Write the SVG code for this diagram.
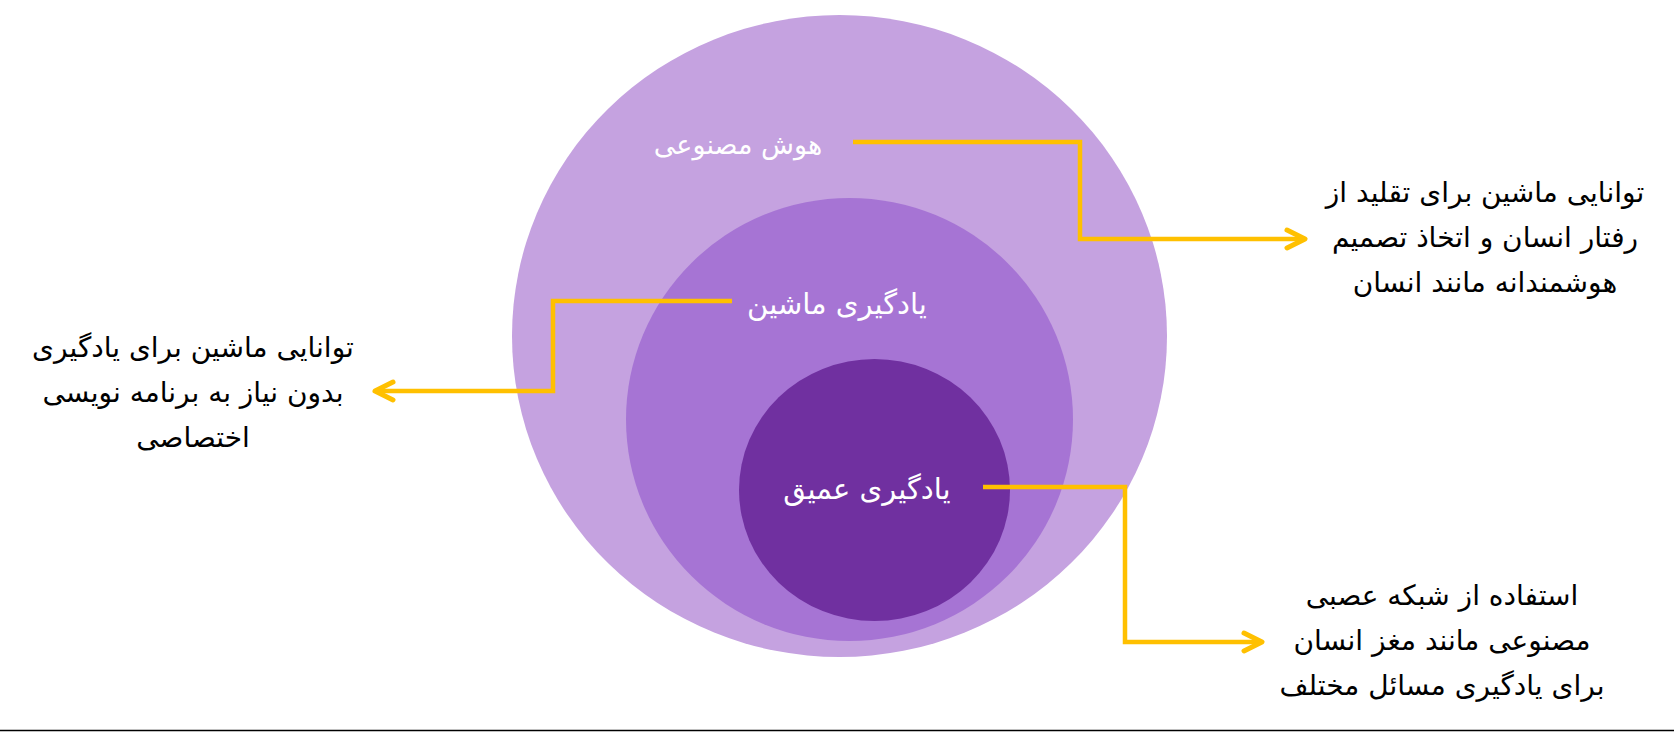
<svg xmlns="http://www.w3.org/2000/svg" width="1674" height="732" viewBox="0 0 1674 732">
<defs>
<style>
.lbl{font-family:"DejaVu Sans",sans-serif;font-size:29px;fill:#ffffff;text-anchor:middle;direction:rtl}
.desc{font-family:"DejaVu Sans",sans-serif;font-size:28px;fill:#000000;text-anchor:middle;direction:rtl}
.conn{fill:none;stroke:#FFC000;stroke-width:4.5;stroke-linejoin:miter}
</style>
<marker id="arr" markerUnits="userSpaceOnUse" markerWidth="30" markerHeight="30" viewBox="-24 -15 30 30" refX="0" refY="0" orient="auto">
<path d="M-18,-9 L0,0 L-18,9" fill="none" stroke="#FFC000" stroke-width="5" stroke-linecap="round" stroke-linejoin="round"/>
</marker>
</defs>
<rect width="1674" height="732" fill="#ffffff"/>
<g id="node-ai">
<ellipse cx="839.5" cy="336" rx="327.5" ry="321" fill="#C5A2E0"/>
<text class="lbl" x="738" y="154" style="font-size:27px">هوش مصنوعی</text>
</g>
<g id="node-ml">
<ellipse cx="849.5" cy="419.5" rx="223.5" ry="221.5" fill="#A674D4"/>
<text class="lbl" x="837" y="314">یادگیری ماشین</text>
</g>
<g id="node-dl">
<ellipse cx="874.5" cy="490" rx="135.5" ry="131" fill="#7030A0"/>
<text class="lbl" x="867" y="499">یادگیری عمیق</text>
</g>
<g id="connectors">
<path class="conn" d="M853,142 H1080 V239 H1305" marker-end="url(#arr)"/>
<path class="conn" d="M732,301 H553 V391 H375" marker-end="url(#arr)"/>
<path class="conn" d="M983,487 H1125 V642 H1262" marker-end="url(#arr)"/>
</g>
<g id="desc-ai">
<text class="desc" x="1485" y="202">توانایی ماشین برای تقلید از</text>
<text class="desc" x="1485" y="247">رفتار انسان و اتخاذ تصمیم</text>
<text class="desc" x="1485" y="292">هوشمندانه مانند انسان</text>
</g>
<g id="desc-ml">
<text class="desc" x="193" y="357">توانایی ماشین برای یادگیری</text>
<text class="desc" x="193" y="402">بدون نیاز به برنامه نویسی</text>
<text class="desc" x="193" y="447">اختصاصی</text>
</g>
<g id="desc-dl">
<text class="desc" x="1442" y="605">استفاده از شبکه عصبی</text>
<text class="desc" x="1442" y="650">مصنوعی مانند مغز انسان</text>
<text class="desc" x="1442" y="695">برای یادگیری مسائل مختلف</text>
</g>
<line x1="0" y1="730.5" x2="1674" y2="730.5" stroke="#000000" stroke-width="1.5"/>
</svg>
